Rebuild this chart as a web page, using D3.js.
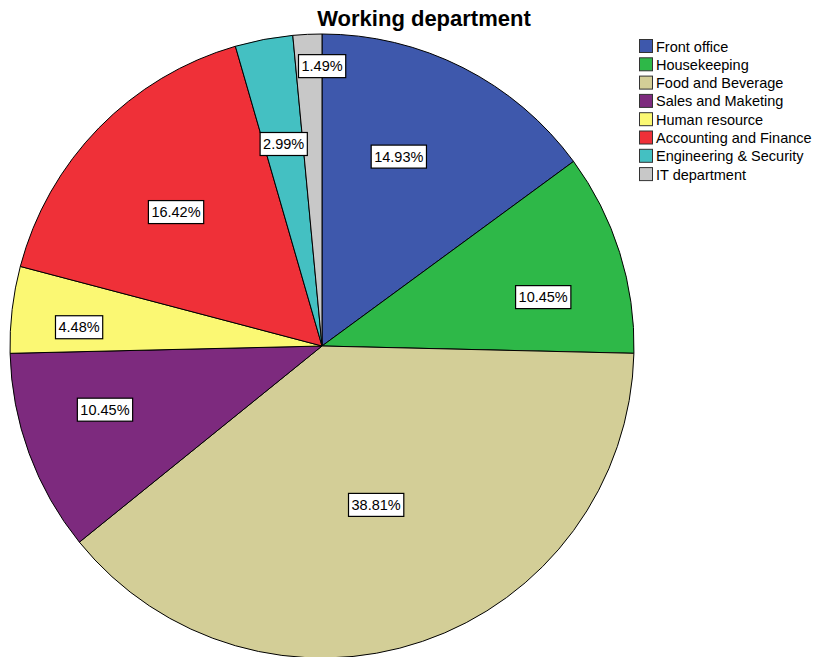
<!DOCTYPE html>
<html>
<head>
<meta charset="utf-8">
<script src="https://cdn.jsdelivr.net/npm/d3@7"></script>
<style>
  body { margin: 0; background: #fff; }
  text { font-family: "Liberation Sans", Arial, sans-serif; }
</style>
</head>
<body>
<div id="chart"></div>
<script>
// department counts (n = 67)
var departments = ["Front office", "Housekeeping", "Food and Beverage", "Sales and Maketing",
    "Human resource", "Accounting and Finance", "Engineering & Security", "IT department"];
var counts = [10, 7, 26, 7, 3, 11, 2, 1];
var colors = ["#3e58ac", "#2eb848", "#d3ce97", "#7d2a7e", "#fbf873", "#ef3038", "#44c0c2", "#c8c8c8"];

// label placement: fraction of radius and angle nudge (deg)
var labelRadius = [0.655, 0.726, 0.538, 0.725, 0.781, 0.635, 0.659, 0.897];
var labelShift = [-4.8, 5.0, 0, 3.8, -2.3, -1.8, 0, 2.7];

var W = 816, H = 657;
var cx = 322, cy = 346, r = 312;

var svg = d3.select("#chart").append("svg")
    .attr("width", W)
    .attr("height", H);

svg.append("text")
    .attr("x", 424)
    .attr("y", 26)
    .attr("text-anchor", "middle")
    .style("font-size", "22px")
    .style("font-weight", "bold")
    .text("Working department");

var total = d3.sum(counts);
var data = departments.map(function(d, i) {
    return {name: d, value: counts[i], color: colors[i], lr: labelRadius[i], ls: labelShift[i]};
});

var pie = d3.pie().sort(null).value(function(d) { return d.value; });
var arc = d3.arc().innerRadius(0).outerRadius(r);

var g = svg.append("g").attr("transform", "translate(" + cx + "," + cy + ")");

var slices = pie(data);

g.selectAll(".slice")
    .data(slices)
    .enter().append("path")
    .attr("class", "slice")
    .attr("d", arc)
    .attr("fill", function(d) { return d.data.color; })
    .attr("stroke", "#000")
    .attr("stroke-width", 1);

var labels = g.selectAll(".lab")
    .data(slices)
    .enter().append("g")
    .attr("class", "lab")
    .attr("transform", function(d) {
        var a = (d.startAngle + d.endAngle) / 2 + d.data.ls * Math.PI / 180;
        var rr = r * d.data.lr;
        return "translate(" + (Math.sin(a) * rr) + "," + (-Math.cos(a) * rr) + ")";
    });

labels.append("text")
    .attr("text-anchor", "middle")
    .attr("dy", "0.36em")
    .style("font-size", "14.5px")
    .text(function(d) { return (d.data.value / total * 100).toFixed(2) + "%"; });

labels.each(function() {
    var t = d3.select(this).select("text");
    var bb = t.node().getBBox();
    d3.select(this).insert("rect", "text")
        .attr("x", bb.x - 3)
        .attr("y", -11.5)
        .attr("width", bb.width + 6)
        .attr("height", 23)
        .attr("fill", "#fff")
        .attr("stroke", "#000")
        .attr("stroke-width", 1.2);
});

// legend
var legend = svg.append("g").attr("transform", "translate(639,39)");
var item = legend.selectAll(".item")
    .data(data)
    .enter().append("g")
    .attr("class", "item")
    .attr("transform", function(d, i) { return "translate(0," + (i * 18.3) + ")"; });

item.append("rect")
    .attr("x", 0.5)
    .attr("y", 0.5)
    .attr("width", 13)
    .attr("height", 13)
    .attr("fill", function(d) { return d.color; })
    .attr("stroke", "#333");

item.append("text")
    .attr("x", 17)
    .attr("y", 12.5)
    .style("font-size", "14.5px")
    .text(function(d) { return d.name; });
</script>
</body>
</html>
